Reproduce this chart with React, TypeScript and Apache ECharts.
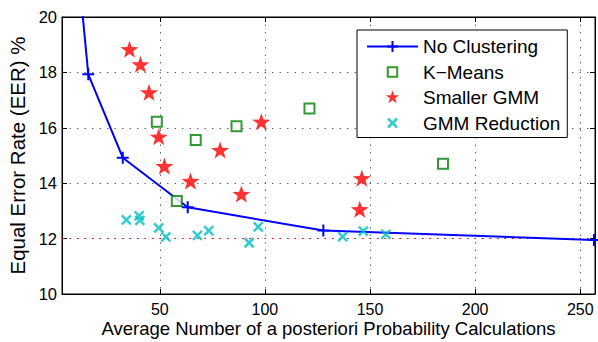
import React, { useEffect, useRef } from "react";
import * as echarts from "echarts";

const xTicksHint = [50, 100, 150, 200, 250];

const noClustering: number[][] = [
  [4, 27.5],
  [16, 17.93],
  [32.4, 14.92],
  [63.3, 13.13],
  [127.8, 12.29],
  [256.5, 11.95],
];

const kMeans: number[][] = [
  [48.6, 16.22],
  [67.1, 15.56],
  [86.5, 16.06],
  [58.1, 13.36],
  [121.2, 16.7],
  [184.7, 14.7],
];

const smallerGMM: number[][] = [
  [35.6, 18.84],
  [40.8, 18.29],
  [44.9, 17.28],
  [49.5, 15.68],
  [52.2, 14.62],
  [64.6, 14.08],
  [78.7, 15.2],
  [98.3, 16.22],
  [88.8, 13.61],
  [146.1, 14.18],
  [145.1, 13.06],
];

const gmmReduction: number[][] = [
  [34.1, 12.68],
  [40.2, 12.82],
  [40.5, 12.66],
  [49.5, 12.39],
  [52.9, 12.06],
  [67.9, 12.12],
  [73.3, 12.29],
  [92.5, 11.85],
  [96.8, 12.42],
  [137.0, 12.07],
  [146.8, 12.27],
  [157.5, 12.15],
];

const referenceEER = 12;

const FONT = "'Liberation Sans', Arial, Helvetica, sans-serif";
const BLUE = "#0000ff";
const GREEN = "#008000";
const RED = "#ff0000";
const CYAN = "#00bfbf";

const PLUS = "path://M0,-10L0,10M-10,0L10,0";
const CROSS = "path://M-10,-10L10,10M-10,10L10,-10";
const STAR =
  "path://M0,-100L23.5,-32.4L95.1,-30.9L38,12.4L58.8,80.9L0,40L-58.8,80.9L-38,12.4L-95.1,-30.9L-23.5,-32.4Z";
const SQUARE_LEGEND = "path://M-14,-14M14,14M-9.5,-9.5L9.5,-9.5L9.5,9.5L-9.5,9.5Z";
const CROSS_LEGEND = "path://M-14,-14M14,14M-9,-9L9,9M-9,9L9,-9";
const STAR_LEGEND =
  "path://M-100,-100M100,100M0,-100L23.5,-32.4L95.1,-30.9L38,12.4L58.8,80.9L0,40L-58.8,80.9L-38,12.4L-95.1,-30.9L-23.5,-32.4Z";

export default function App() {
  const ref = useRef<HTMLDivElement>(null);
  useEffect(() => {
    if (!ref.current) return;
    const chart = echarts.init(ref.current, null, { renderer: "svg" });
    const gridDash = { color: "#666", type: [1.5, 6] as any, width: 1 };
    chart.setOption({
      animation: false,
      backgroundColor: "#fff",
      textStyle: { fontFamily: FONT },
      grid: {
        left: 62,
        right: 3,
        top: 17,
        bottom: 48,
        containLabel: false,
        outerBoundsMode: "none",
        show: true,
        borderColor: "#000",
        borderWidth: 1,
        backgroundColor: "transparent",
      },
      legend: {
        orient: "vertical",
        left: 357,
        top: 30,
        padding: [7, 7, 5, 9],
        itemWidth: 51,
        itemHeight: 14,
        itemGap: 6.5,
        backgroundColor: "#fff",
        borderColor: "#000",
        borderWidth: 1,
        borderRadius: 0,
        textStyle: { fontSize: 19, fontFamily: FONT, color: "#000" },
        data: [
          { name: "No Clustering" },
          {
            name: "K\u2212Means",
            icon: SQUARE_LEGEND,
            itemStyle: { color: "#fff", borderColor: GREEN, borderWidth: 2 },
          },
          {
            name: "Smaller GMM",
            icon: STAR_LEGEND,
            itemStyle: { color: RED, borderWidth: 0 },
          },
          {
            name: "GMM Reduction",
            icon: CROSS_LEGEND,
            itemStyle: { color: CYAN, borderColor: CYAN, borderWidth: 2.5 },
          },
        ],
      },
      xAxis: [
        {
          type: "value",
          min: 3.5,
          max: 257,
          splitNumber: xTicksHint.length,
          position: "bottom",
          axisLine: { show: true, lineStyle: { color: "#000", width: 1 } },
          axisTick: { show: true, inside: true, length: 5, lineStyle: { color: "#000" } },
          axisLabel: {
            show: true,
            showMinLabel: false,
            showMaxLabel: false,
            margin: 7,
            fontSize: 16,
            color: "#000",
            fontFamily: FONT,
          },
          splitLine: { show: true, lineStyle: gridDash },
          name: "Average Number of a posteriori Probability Calculations",
          nameLocation: "middle",
          nameGap: 25,
          nameMoveOverlap: false,
          nameTextStyle: { fontSize: 18.5, color: "#000", fontFamily: FONT },
        },
        {
          type: "value",
          min: 3.5,
          max: 257,
          splitNumber: xTicksHint.length,
          position: "top",
          axisLine: { show: true, lineStyle: { color: "#000", width: 1 } },
          axisTick: { show: true, inside: true, length: 5, lineStyle: { color: "#000" } },
          axisLabel: { show: false },
          splitLine: { show: false },
        },
      ],
      yAxis: [
        {
          type: "value",
          min: 10,
          max: 20,
          interval: 2,
          position: "left",
          axisLine: { show: true, lineStyle: { color: "#000", width: 1 } },
          axisTick: { show: true, inside: true, length: 5, lineStyle: { color: "#000" } },
          axisLabel: { margin: 5, fontSize: 16.5, color: "#000", fontFamily: FONT },
          splitLine: { show: true, lineStyle: gridDash },
          name: "Equal Error Rate (EER) %",
          nameLocation: "middle",
          nameGap: 34,
          nameMoveOverlap: false,
          nameTextStyle: { fontSize: 20.5, color: "#000", fontFamily: FONT },
        },
        {
          type: "value",
          min: 10,
          max: 20,
          interval: 2,
          position: "right",
          axisLine: { show: true, lineStyle: { color: "#000", width: 1 } },
          axisTick: { show: true, inside: true, length: 5, lineStyle: { color: "#000" } },
          axisLabel: { show: false },
          splitLine: { show: false },
        },
      ],
      series: [
        {
          name: "No Clustering",
          type: "line",
          data: noClustering,
          clip: true,
          symbol: PLUS,
          symbolSize: 12,
          showSymbol: true,
          lineStyle: { color: BLUE, width: 2 },
          itemStyle: { color: BLUE, borderColor: BLUE, borderWidth: 2 },
          z: 3,
          markLine: {
            silent: true,
            symbol: "none",
            label: { show: false },
            lineStyle: { color: RED, type: [1.5, 6] as any, width: 1 },
            data: [{ yAxis: referenceEER }],
            z: 1,
          },
        },
        {
          name: "K\u2212Means",
          type: "scatter",
          data: kMeans,
          symbol: "rect",
          symbolSize: 10,
          itemStyle: { color: "#fff", borderColor: GREEN, borderWidth: 2 },
          z: 4,
        },
        {
          name: "Smaller GMM",
          type: "scatter",
          data: smallerGMM,
          symbol: STAR,
          symbolSize: [18, 17],
          itemStyle: { color: RED },
          z: 4,
        },
        {
          name: "GMM Reduction",
          type: "scatter",
          data: gmmReduction,
          symbol: CROSS,
          symbolSize: 9,
          itemStyle: { color: CYAN, borderColor: CYAN, borderWidth: 2.5 },
          z: 4,
        },
      ],
    });
    return () => chart.dispose();
  }, []);
  return <div ref={ref} style={{ width: 598, height: 342, position: "fixed", left: 0, top: 0 }} />;
}
